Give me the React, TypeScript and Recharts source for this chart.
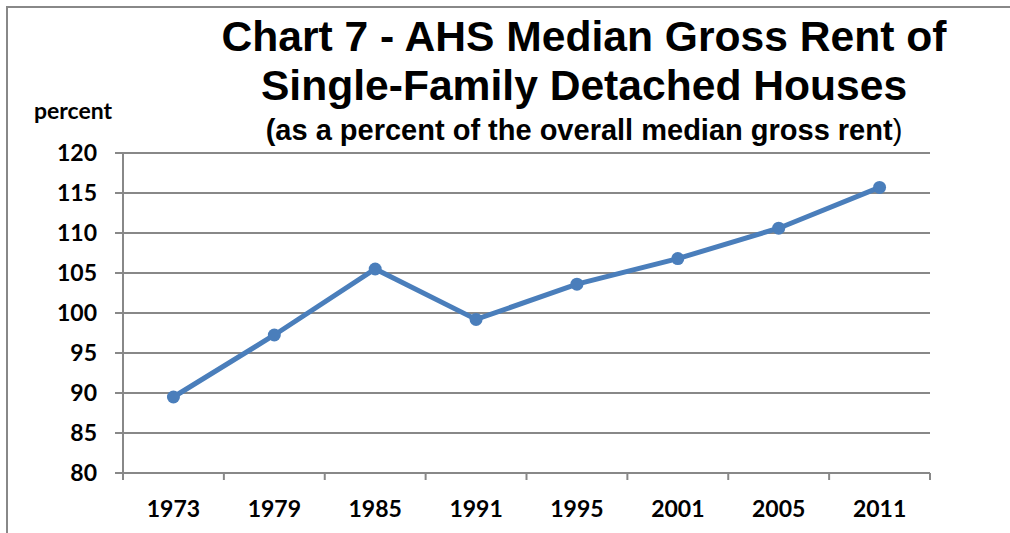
import { CartesianGrid, Line, LineChart, XAxis, YAxis } from "recharts";

const years = ["1973", "1979", "1985", "1991", "1995", "2001", "2005", "2011"];
const rentPct = [89.5, 97.25, 105.5, 99.2, 103.6, 106.8, 110.6, 115.7];
const yTicks = [80, 85, 90, 95, 100, 105, 110, 115, 120];

const data = years.map((year, i) => ({ year, pct: rentPct[i] }));

const CHART_W = 1010;
const CHART_H = 533;
const Y_AXIS_W = 123;
const RIGHT_PAD = 80;
const PLOT_W = CHART_W - Y_AXIS_W - RIGHT_PAD;

const AXIS_GRAY = "#888888";
const LINE_BLUE = "#4A7EBB";
const LABEL_FONT = "Lato, 'Open Sans', sans-serif";
const TITLE_FONT = "'Liberation Sans', Arial, sans-serif";

// Excel-style category axis: label in the middle, tick marks on the band edges.
function YearTick(props: any) {
  const { x, y, payload, index } = props;
  const band = PLOT_W / years.length;
  const top = y - 8;
  const last = index === years.length - 1;
  return (
    <g>
      <line x1={x - band / 2} x2={x - band / 2} y1={top} y2={top + 7} stroke={AXIS_GRAY} strokeWidth={2} />
      {last && (
        <line x1={x + band / 2} x2={x + band / 2} y1={top} y2={top + 7} stroke={AXIS_GRAY} strokeWidth={2} />
      )}
      <text x={x} y={top + 44} textAnchor="middle" fontFamily={LABEL_FONT} fontWeight={700} fontSize={23} fill="#000">
        {payload.value}
      </text>
    </g>
  );
}

export default function App() {
  return (
    <div
      style={{
        position: "absolute",
        left: 0,
        top: 0,
        width: CHART_W,
        height: CHART_H,
        overflow: "hidden",
        background: "#fff",
      }}
    >
      <div
        style={{
          position: "absolute",
          left: 6,
          top: 6,
          width: 1100,
          height: 600,
          borderLeft: `2px solid ${AXIS_GRAY}`,
          borderTop: `2px solid ${AXIS_GRAY}`,
        }}
      />
      <div
        style={{
          position: "absolute",
          left: 180,
          width: 808,
          top: 12,
          textAlign: "center",
          fontFamily: TITLE_FONT,
          fontWeight: 700,
          fontSize: 42.6,
          lineHeight: "49px",
          color: "#000",
          whiteSpace: "nowrap",
        }}
      >
        Chart 7 - AHS Median Gross Rent of
        <br />
        Single-Family Detached Houses
      </div>
      <div
        style={{
          position: "absolute",
          left: 180,
          width: 808,
          top: 114,
          textAlign: "center",
          fontFamily: TITLE_FONT,
          fontWeight: 700,
          fontSize: 29,
          lineHeight: "32px",
          color: "#000",
          whiteSpace: "nowrap",
        }}
      >
        (as a percent of the overall median gross rent<span style={{ fontWeight: 400 }}>)</span>
      </div>
      <div
        style={{
          position: "absolute",
          left: 34,
          top: 99,
          fontFamily: LABEL_FONT,
          fontWeight: 700,
          fontSize: 23,
          lineHeight: 1,
          color: "#000",
        }}
      >
        percent
      </div>
      <LineChart
        width={CHART_W}
        height={CHART_H}
        data={data}
        margin={{ top: 153, right: RIGHT_PAD, bottom: 0, left: 0 }}
        style={{ position: "absolute", left: 0, top: 0 }}
      >
        <CartesianGrid vertical={false} stroke={AXIS_GRAY} strokeWidth={2} />
        <XAxis
          dataKey="year"
          scale="band"
          height={60}
          stroke={AXIS_GRAY}
          strokeWidth={2}
          tickLine={false}
          tick={<YearTick />}
          interval={0}
        />
        <YAxis
          width={Y_AXIS_W}
          domain={[80, 120]}
          ticks={yTicks}
          interval={0}
          stroke={AXIS_GRAY}
          strokeWidth={2}
          tickSize={8}
          tickMargin={18}
          tick={{ fill: "#000", fontFamily: LABEL_FONT, fontWeight: 700, fontSize: 23 }}
        />
        <Line
          type="linear"
          dataKey="pct"
          stroke={LINE_BLUE}
          strokeWidth={5}
          dot={{ r: 6.5, fill: LINE_BLUE, stroke: LINE_BLUE, strokeWidth: 0 }}
          activeDot={false}
          isAnimationActive={false}
        />
      </LineChart>
    </div>
  );
}
